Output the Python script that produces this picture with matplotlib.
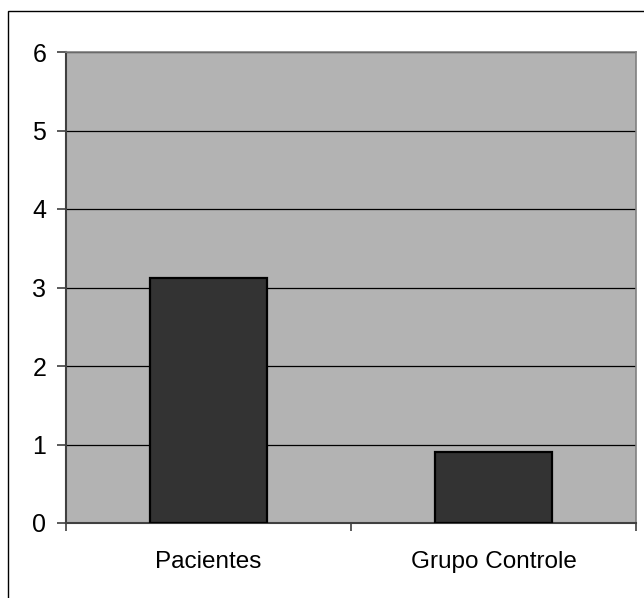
import matplotlib
matplotlib.use("Agg")
import matplotlib.pyplot as plt
from matplotlib.patches import Rectangle

plt.rcParams['font.family'] = ['Liberation Sans', 'DejaVu Sans']

categories = ["Pacientes", "Grupo Controle"]
values = [3.12, 0.90]
y_ticks = [0, 1, 2, 3, 4, 5, 6]

fig = plt.figure(figsize=(6.44, 5.98), dpi=100)
fig.patch.set_facecolor("white")

# outer chart-area frame
fig.patches.append(Rectangle((8 / 644, -0.1), 1.2, 1 - 11 / 598 + 0.1,
                             transform=fig.transFigure, fill=False,
                             edgecolor="black", linewidth=1.0))

ax = fig.add_axes([66 / 644, 75 / 598, 570 / 644, 471 / 598])
ax.set_facecolor("#b3b3b3")

x = list(range(len(categories)))
ax.bar(x, values, width=0.41, color="#333333", edgecolor="black",
       linewidth=1.6, zorder=3)

ax.set_xlim(-0.5, len(categories) - 0.5)
ax.set_ylim(0, 6)
ax.set_yticks(y_ticks)
ax.set_yticklabels([str(t) for t in y_ticks])
ax.yaxis.grid(True, color="black", linewidth=0.9, zorder=1)
ax.set_axisbelow(True)

ax.set_xticks(x)
ax.set_xticklabels(categories)
ax.set_xticks([-0.5, 0.5, 1.5], minor=True)
ax.tick_params(axis="x", which="major", length=0, pad=20, labelsize=17.5)
ax.tick_params(axis="x", which="minor", length=6, width=1.2, color="#404040")
ax.tick_params(axis="y", length=6.3, width=1.2, color="#404040", pad=8,
               labelsize=18)

for side in ("left", "bottom"):
    ax.spines[side].set_color("#404040")
    ax.spines[side].set_linewidth(1.5)
for side in ("top", "right"):
    ax.spines[side].set_color("#808080")
    ax.spines[side].set_linewidth(1.2)

fig.savefig("out.png", dpi=100)
